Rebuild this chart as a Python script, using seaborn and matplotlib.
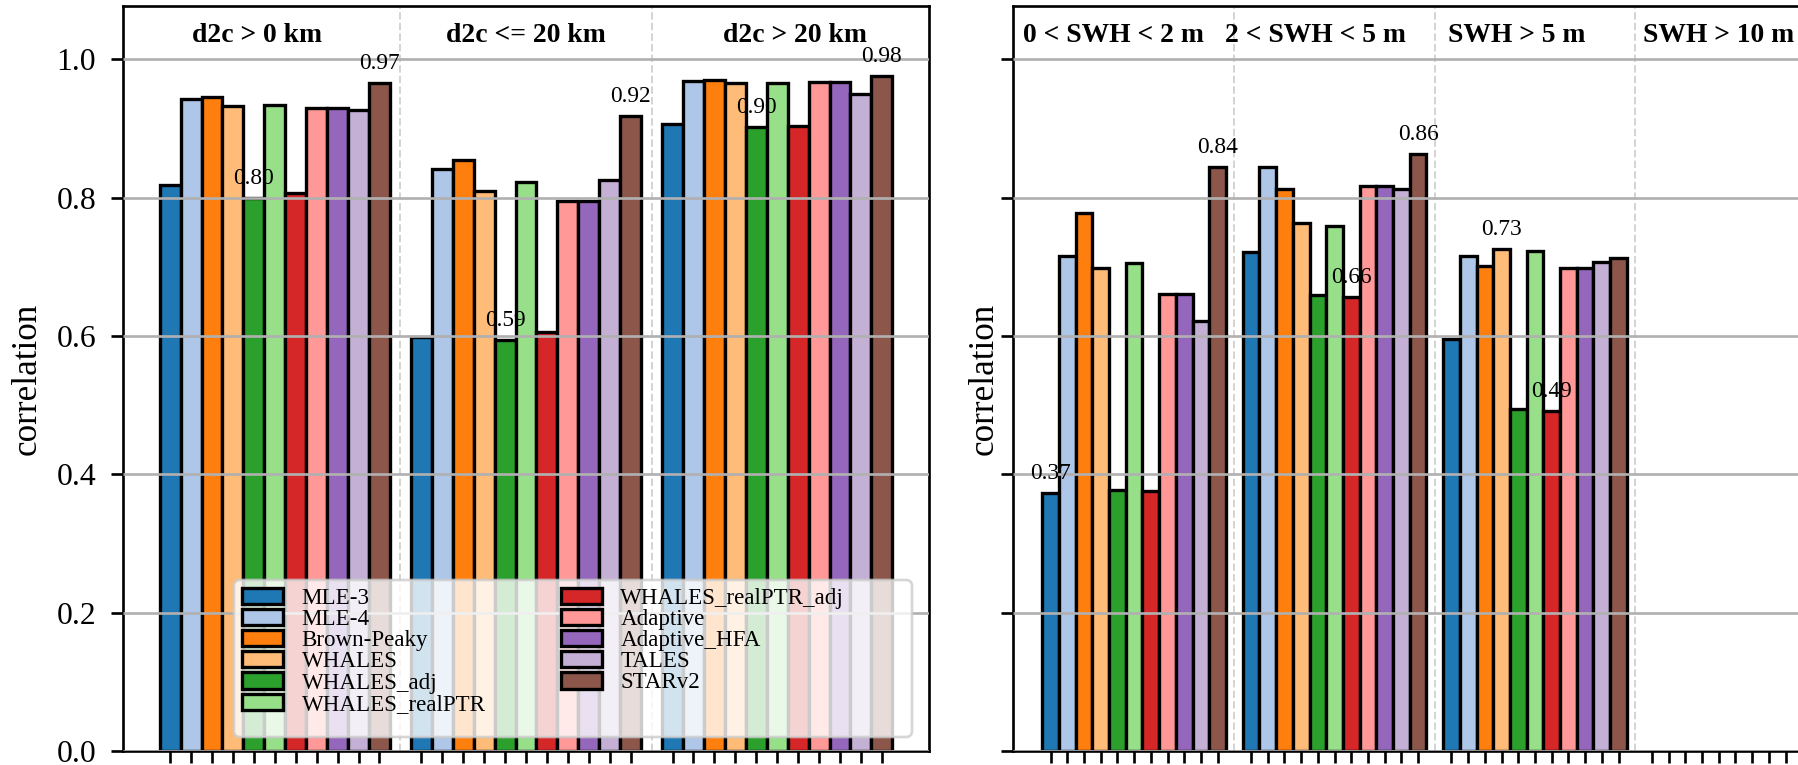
import numpy as np
import pandas as pd
import matplotlib
matplotlib.use("Agg")
import matplotlib.pyplot as plt
from matplotlib.patches import Patch, FancyBboxPatch
from matplotlib.transforms import blended_transform_factory
import seaborn as sns

plt.rcParams["font.family"] = ["Liberation Serif", "DejaVu Serif"]

retrackers = ["MLE-3", "MLE-4", "Brown-Peaky", "WHALES", "WHALES_adj",
              "WHALES_realPTR", "WHALES_realPTR_adj", "Adaptive",
              "Adaptive_HFA", "TALES", "STARv2"]

# distance-to-coast classes
d2c_groups = ["d2c > 0 km", "d2c <= 20 km", "d2c > 20 km"]
d2c_all = [0.818, 0.942, 0.945, 0.932, 0.800, 0.934, 0.806, 0.930, 0.930, 0.926, 0.966]
d2c_near = [0.598, 0.841, 0.854, 0.810, 0.594, 0.823, 0.605, 0.795, 0.795, 0.826, 0.918]
d2c_far = [0.906, 0.968, 0.970, 0.966, 0.902, 0.965, 0.903, 0.967, 0.967, 0.950, 0.976]

# significant wave height classes
swh_groups = ["0 < SWH < 2 m", "2 < SWH < 5 m", "SWH > 5 m", "SWH > 10 m"]
swh_low = [0.373, 0.715, 0.778, 0.698, 0.377, 0.705, 0.376, 0.661, 0.661, 0.621, 0.844]
swh_mid = [0.722, 0.844, 0.812, 0.764, 0.659, 0.759, 0.656, 0.817, 0.817, 0.813, 0.863]
swh_high = [0.595, 0.715, 0.701, 0.726, 0.494, 0.723, 0.492, 0.698, 0.698, 0.707, 0.712]
swh_extreme = [np.nan, np.nan, np.nan, np.nan, np.nan, np.nan,
               np.nan, np.nan, np.nan, np.nan, np.nan]

palette = sns.color_palette("tab20", len(retrackers))
n = len(retrackers)
bar_w = 1.0 / (n + 1)

fig = plt.figure(figsize=(1798 / 240, 765 / 240), dpi=240)
ax1 = fig.add_axes([123 / 1798, 14 / 765, 806 / 1798, 745 / 765])
ax2 = fig.add_axes([1013 / 1798, 14 / 765, 806 / 1798, 745 / 765], sharey=ax1)


def draw_panel(ax, groups, values):
    df = pd.DataFrame({
        "group": np.repeat(groups, n),
        "retracker": retrackers * len(groups),
        "corr": np.concatenate([np.asarray(v, dtype=float) for v in values]),
    })
    sns.barplot(data=df, x="group", y="corr", hue="retracker", order=groups,
                hue_order=retrackers, palette=palette, width=n * bar_w,
                saturation=1, edgecolor="black", linewidth=1.0,
                errorbar=None, legend=False, ax=ax, zorder=1)

    centers = [gi + (i - (n - 1) / 2) * bar_w
               for gi in range(len(groups)) for i in range(n)]
    ax.set_xticks(centers)
    ax.set_xticklabels([])

    # min / max annotations per class
    for gi, vals in enumerate(values):
        v = np.asarray(vals, dtype=float)
        if np.all(np.isnan(v)):
            continue
        for idx in (int(np.nanargmin(v)), int(np.nanargmax(v))):
            x = gi + (idx - (n - 1) / 2) * bar_w
            ax.text(x, v[idx] + 0.013, f"{v[idx]:.2f}", ha="center",
                    va="bottom", fontsize=7, zorder=6)

    # separators between classes
    for gi in range(len(groups) - 1):
        ax.axvline(gi + 0.5, color="#d4d4d4", ls="--", lw=0.6, zorder=0.5)

    trans = blended_transform_factory(ax.transAxes, ax.transData)
    for gi, g in enumerate(groups):
        ax.text((2 * gi + 1) / (2 * len(groups)), 1.035, g, transform=trans,
                ha="center", va="center", fontsize=8.3, fontweight="bold")

    n_data = sum(1 for v in values if not np.all(np.isnan(np.asarray(v, dtype=float))))
    lo = -n * bar_w / 2
    hi = (n_data - 1) + n * bar_w / 2
    m = 0.05 * (hi - lo)
    ax.set_xlim(lo - m, max(hi + m, centers[-1]))

    ax.set_ylim(0, 1.077)
    ax.set_yticks([0.0, 0.2, 0.4, 0.6, 0.8, 1.0])
    ax.yaxis.grid(True, color="#b0b0b0", lw=0.8)
    ax.xaxis.grid(False)
    ax.set_axisbelow(False)
    ax.set_xlabel("")
    ax.set_ylabel("correlation", fontsize=10.5)
    ax.tick_params(axis="x", length=3.5, width=0.8, direction="out")
    ax.tick_params(axis="y", length=3.5, width=0.8, direction="out",
                   labelsize=9.5, pad=4.5)
    for s in ax.spines.values():
        s.set_visible(True)
        s.set_color("black")
        s.set_linewidth(0.8)


draw_panel(ax1, d2c_groups, [d2c_all, d2c_near, d2c_far])
draw_panel(ax2, swh_groups, [swh_low, swh_mid, swh_high, swh_extreme])
ax2.tick_params(axis="y", labelleft=False)
ax2.set_ylabel("correlation", fontsize=10.5, labelpad=0.3)

# legend box and entries
frame = FancyBboxPatch((234 / 240, 28 / 240), 678 / 240, 157 / 240,
                       boxstyle="round,pad=0,rounding_size=0.025",
                       transform=fig.dpi_scale_trans, facecolor="white",
                       edgecolor="#cccccc", linewidth=0.8, alpha=0.8, zorder=4.9)
ax1.add_artist(frame)

handles = [Patch(facecolor=c, edgecolor="black", linewidth=1.0) for c in palette]
ax1.legend(handles, retrackers, ncol=2, loc="upper left",
           bbox_to_anchor=((242 - 123) / 806, (751 - 588) / 745),
           frameon=False, borderpad=0, borderaxespad=0, fontsize=6.9,
           labelspacing=0.0, handlelength=1.8, handleheight=0.7,
           handletextpad=0.8, columnspacing=3.25)

fig.savefig("out.png", dpi=240)
